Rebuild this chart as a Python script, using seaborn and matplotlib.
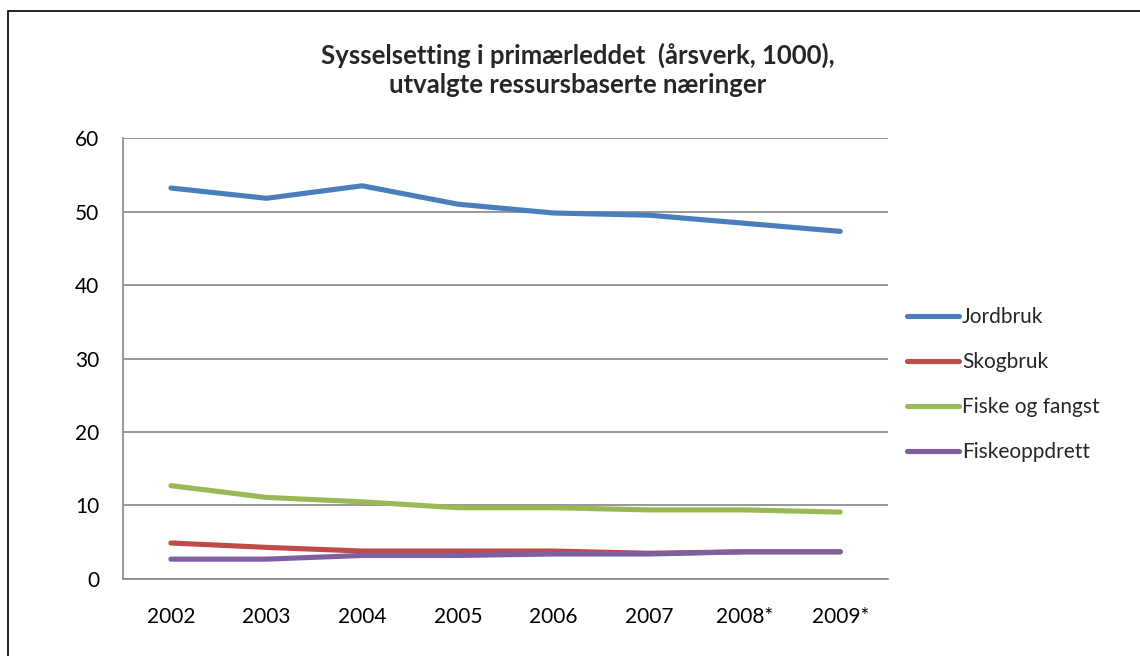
import numpy as np
import pandas as pd
import matplotlib
matplotlib.use('Agg')
import matplotlib.pyplot as plt
import seaborn as sns

# Dados
anos = ['2002', '2003', '2004', '2005', '2006', '2007', '2008*', '2009*']
jordbruk = [53.2, 51.8, 53.5, 51.0, 49.8, 49.5, 48.4, 47.3]
skogbruk = [4.9, 4.3, 3.8, 3.8, 3.8, 3.5, 3.7, 3.7]
fiske_fangst = [12.7, 11.1, 10.5, 9.7, 9.7, 9.4, 9.4, 9.1]
fiskeoppdrett = [2.7, 2.7, 3.2, 3.2, 3.4, 3.4, 3.7, 3.7]

series = ['Jordbruk', 'Skogbruk', 'Fiske og fangst', 'Fiskeoppdrett']
cores = ['#4a7ebb', '#be4b48', '#98b954', '#7d60a0']

df = pd.DataFrame({'Ano': anos,
                   'Jordbruk': jordbruk,
                   'Skogbruk': skogbruk,
                   'Fiske og fangst': fiske_fangst,
                   'Fiskeoppdrett': fiskeoppdrett})
df_long = df.melt(id_vars = 'Ano', var_name = 'Serie', value_name = 'Verdi')
df_long['pos'] = df_long['Ano'].map({a: i for i, a in enumerate(anos)})

sns.set_style('white')
plt.rcParams['font.family'] = ['Lato', 'DejaVu Sans']

fig = plt.figure(figsize = (11.4, 6.56), dpi = 100)
ax = fig.add_axes([0.108, 0.1174, 0.671, 0.6722])

sns.lineplot(data = df_long, x = 'pos', y = 'Verdi', hue = 'Serie',
             hue_order = series, palette = cores, linewidth = 3.7,
             solid_capstyle = 'round', ax = ax, legend = True)

ax.set_xlim(-0.5, len(anos) - 0.5)
ax.set_ylim(0, 60)
ax.set_yticks(range(0, 61, 10))
ax.set_xticks(range(len(anos)))
ax.set_xticklabels(anos)
ax.set_xlabel('')
ax.set_ylabel('')
ax.yaxis.grid(True, color = '#868686', linewidth = 1.2)
ax.set_axisbelow(True)
for s in ['top', 'right']:
    ax.spines[s].set_visible(False)
for s in ['left', 'bottom']:
    ax.spines[s].set_color('#868686')
    ax.spines[s].set_linewidth(1.2)
ax.tick_params(axis = 'both', length = 0, labelsize = 15, colors = 'black')
ax.tick_params(axis = 'x', pad = 20)
ax.tick_params(axis = 'y', pad = 17)

# Legenda
leg = ax.legend(loc = 'center left', bbox_to_anchor = (1.0, 0.44), frameon = False,
                fontsize = 15, handlelength = 2.5, handletextpad = 0.15,
                labelspacing = 1.2)
for linha in leg.get_lines():
    linha.set_linewidth(3.7)

# Título
fig.text(0.507, 0.893, 'Sysselsetting i primærleddet  (årsverk, 1000),\nutvalgte ressursbaserte næringer',
         ha = 'center', va = 'center', fontsize = 18.5, fontweight = 'bold', linespacing = 1.25)

# Borda
borda = plt.Rectangle((8 / 1140, -0.05), 1.1, 1 - 11 / 656 + 0.05, transform = fig.transFigure,
                      fill = False, edgecolor = 'black', linewidth = 1.2)
fig.add_artist(borda)

plt.savefig('out.png', dpi = 100)
